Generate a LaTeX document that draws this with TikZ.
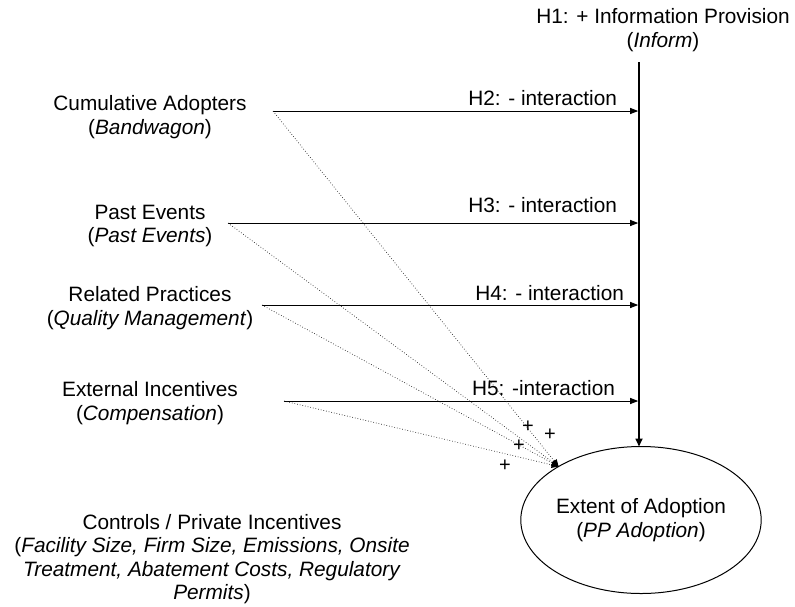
\documentclass[tikz,border=0pt]{standalone}
\usepackage{fontspec}
\setmainfont{Liberation Sans}
\usetikzlibrary{arrows.meta,shapes.geometric}
\begin{document}
\begin{tikzpicture}[x=1pt,y=-1pt,
  every node/.style={inner sep=0pt,outer sep=0pt},
  lbl/.style={align=center,font=\fontsize{20.8}{23.5}\selectfont},
  hlbl/.style={anchor=base east,font=\fontsize{20.8}{23.5}\selectfont},
  plus/.style={font=\fontsize{20}{20}\selectfont},
  harrow/.style={line width=1pt,-{Triangle[length=8pt,width=6pt]}},
  varrow/.style={line width=1.6pt,-{Triangle[length=8pt,width=7pt]}},
  darrow/.style={line width=0.7pt,dotted,black!85,-{Triangle[length=7pt,width=6pt,fill=black,color=black]}},
  oval/.style={draw,ellipse,line width=1pt,minimum width=230pt,minimum height=147pt,align=center,font=\fontsize{20.8}{23.5}\selectfont}]
\path[use as bounding box] (0,0) rectangle (795,606);

% left labels
\node[lbl] (ca) at (150,117) {Cumulative Adopters\\(\textit{Bandwagon})};
\node[lbl] (pe) at (150,226) {Past Events\\(\textit{Past Events})};
\node[lbl] (rp) at (150,308) {Related Practices\\(\textit{Quality Management})};
\node[lbl] (ei) at (150,403) {External Incentives\\(\textit{Compensation})};
\node[lbl] (ct) at (212,559) {Controls / Private Incentives\\(\textit{Facility Size, Firm Size, Emissions, Onsite}\\\textit{Treatment, Abatement Costs, Regulatory}\\\textit{Permits})};

% H1
\node[lbl] (h1) at (663,30) {H1: + Information Provision\\(\textit{Inform})};

% outcome
\node[oval] (eoa) at (641,520) {Extent of Adoption\\(\textit{PP Adoption})};

% start points
\coordinate (s2) at (273,111);
\coordinate (s3) at (228,223);
\coordinate (s4) at (262,305);
\coordinate (s5) at (284,401);
\coordinate (vtop) at (639,62);

% vertical main arrow
\draw[varrow] (vtop) -- (vtop |- eoa.north);

% horizontal interaction arrows
\draw[harrow,shorten >=0.8pt] (s2) -- (s2 -| vtop);
\draw[harrow,shorten >=0.8pt] (s3) -- (s3 -| vtop);
\draw[harrow,shorten >=0.8pt] (s4) -- (s4 -| vtop);
\draw[harrow,shorten >=0.8pt] (s5) -- (s5 -| vtop);

\node[hlbl] (h2) at (617,105) {H2: - interaction};
\node[hlbl] (h3) at (617,212) {H3: - interaction};
\node[hlbl] (h4) at (624,300) {H4: - interaction};
\node[hlbl] (h5) at (615,395) {H5: -interaction};

% dotted direct effects
\draw[darrow] (s2) -- (eoa.147);
\draw[darrow] (s3) -- (eoa.147);
\draw[darrow] (s4) -- (eoa.147);
\draw[darrow] (s5) -- (eoa.147);

% plus signs
\node[plus] (p1) at (528,427) {+};
\node[plus] (p2) at (550,435) {+};
\node[plus] (p3) at (519,446) {+};
\node[plus] (p4) at (505,466) {+};
\end{tikzpicture}
\end{document}
